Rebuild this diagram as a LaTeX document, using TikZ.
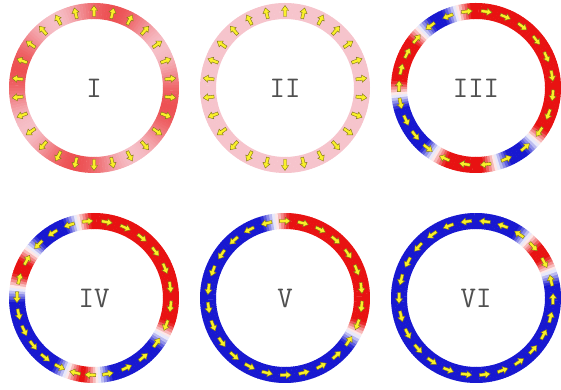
\documentclass[tikz,border=0pt]{standalone}
\definecolor{ringred}{RGB}{232,18,18}
\definecolor{ringblue}{RGB}{24,24,208}
\definecolor{ringpink}{RGB}{246,196,204}
\definecolor{spinfill}{RGB}{250,240,40}
\definecolor{spinedge}{RGB}{125,115,20}
\definecolor{labelgray}{RGB}{80,80,80}
\tikzset{
  spin/.pic={\filldraw[fill=spinfill,draw=spinedge,line width=0.4pt]
    (-5.5pt,-1.5pt) -- (0.5pt,-1.5pt) -- (0.5pt,-3.6pt) -- (5.5pt,0pt)
    -- (0.5pt,3.6pt) -- (0.5pt,1.5pt) -- (-5.5pt,1.5pt) -- cycle;},
  ringlabel/.style={text=labelgray,font=\ttfamily\fontsize{30}{30}\selectfont}
}
% sector of the ring from angle #1 to #2 filled with colour #3
\newcommand{\Sc}[3]{\fill[#3] (#1:69pt) -- (#1:85pt) arc[start angle=#1, end angle=#2, radius=85pt]
  -- (#2:69pt) arc[start angle=#2, end angle=#1, radius=69pt] -- cycle;}
% domain from #1 to #2 (counterclockwise), colour #3, spins turned by #4
\newcommand{\Dm}[4]{%
  \pgfmathsetmacro{\dmw}{#2-#1}%
  \pgfmathtruncatemacro{\dmn}{max(1,round(\dmw/2))}%
  \pgfmathsetmacro{\dms}{\dmw/\dmn}%
  \foreach \i in {1,...,\dmn}{
    \pgfmathsetmacro{\dma}{#1+(\i-1)*\dms}
    \pgfmathsetmacro{\dmb}{\dma+\dms+0.3}
    \pgfmathsetmacro{\dmd}{min(10,\dma+0.5*\dms-#1,#2-\dma-0.5*\dms)}
    \pgfmathsetmacro{\dmt}{10*\dmd}
    \Sc{\dma}{\dmb}{#3!\dmt!white}
  }
  \pgfmathtruncatemacro{\dmk}{max(1,round(\dmw/14))}%
  \pgfmathsetmacro{\dmr}{\dmw/\dmk}%
  \foreach \i in {1,...,\dmk}{
    \pgfmathsetmacro{\dmc}{#1+(\i-0.5)*\dmr}
    \pic[rotate=\dmc+(#4)] at (\dmc:77pt) {spin};
  }}
% ring without domains, intensity of red given by #1 (a function of \a)
\newcommand{\Rg}[1]{%
  \foreach \a in {0,2,...,358}{
    \pgfmathsetmacro{\rgt}{#1}
    \pgfmathsetmacro{\rgb}{\a+2.3}
    \Sc{\a}{\rgb}{ringred!\rgt!ringpink}
  }
  \foreach \k in {0,...,25}{
    \pgfmathsetmacro{\rgc}{90+\k*(360/26)}
    \pic[rotate=\rgc] at (\rgc:77pt) {spin};
  }}

\begin{document}
\begin{tikzpicture}[x=1pt,y=1pt]
\useasboundingbox (0,0) rectangle (561,390);
% upper row
\begin{scope}[shift={(94,302)}]
  \Rg{3+62*(0.5+0.5*cos(4*(\a-75)))}
  \node[ringlabel] (l1) at (0,0) {I};
\end{scope}
\begin{scope}[shift={(285,302)}]
  \Rg{0}
  \node[ringlabel] (l2) at (0,0) {II};
\end{scope}
\begin{scope}[shift={(476,302)}]
  \Dm{-42}{104}{ringred}{-90}
  \Dm{104}{134}{ringblue}{90}
  \Dm{134}{185}{ringred}{-90}
  \Dm{185}{238}{ringblue}{90}
  \Dm{238}{285}{ringred}{-90}
  \Dm{285}{318}{ringblue}{90}
  \node[ringlabel] (l3) at (0,0) {III};
\end{scope}
% lower row
\begin{scope}[shift={(94,92)}]
  \Dm{-28}{102}{ringred}{-90}
  \Dm{102}{143}{ringblue}{90}
  \Dm{143}{173}{ringred}{-90}
  \Dm{173}{250}{ringblue}{90}
  \Dm{250}{273}{ringred}{-90}
  \Dm{273}{332}{ringblue}{90}
  \node[ringlabel] (l4) at (0,0) {IV};
\end{scope}
\begin{scope}[shift={(285,92)}]
  \Dm{-27}{97}{ringred}{-90}
  \Dm{97}{333}{ringblue}{90}
  \node[ringlabel] (l5) at (0,0) {V};
\end{scope}
\begin{scope}[shift={(476,92)}]
  \Dm{20}{49}{ringred}{-90}
  \Dm{49}{380}{ringblue}{90}
  \node[ringlabel] (l6) at (0,0) {VI};
\end{scope}
\end{tikzpicture}
\end{document}
